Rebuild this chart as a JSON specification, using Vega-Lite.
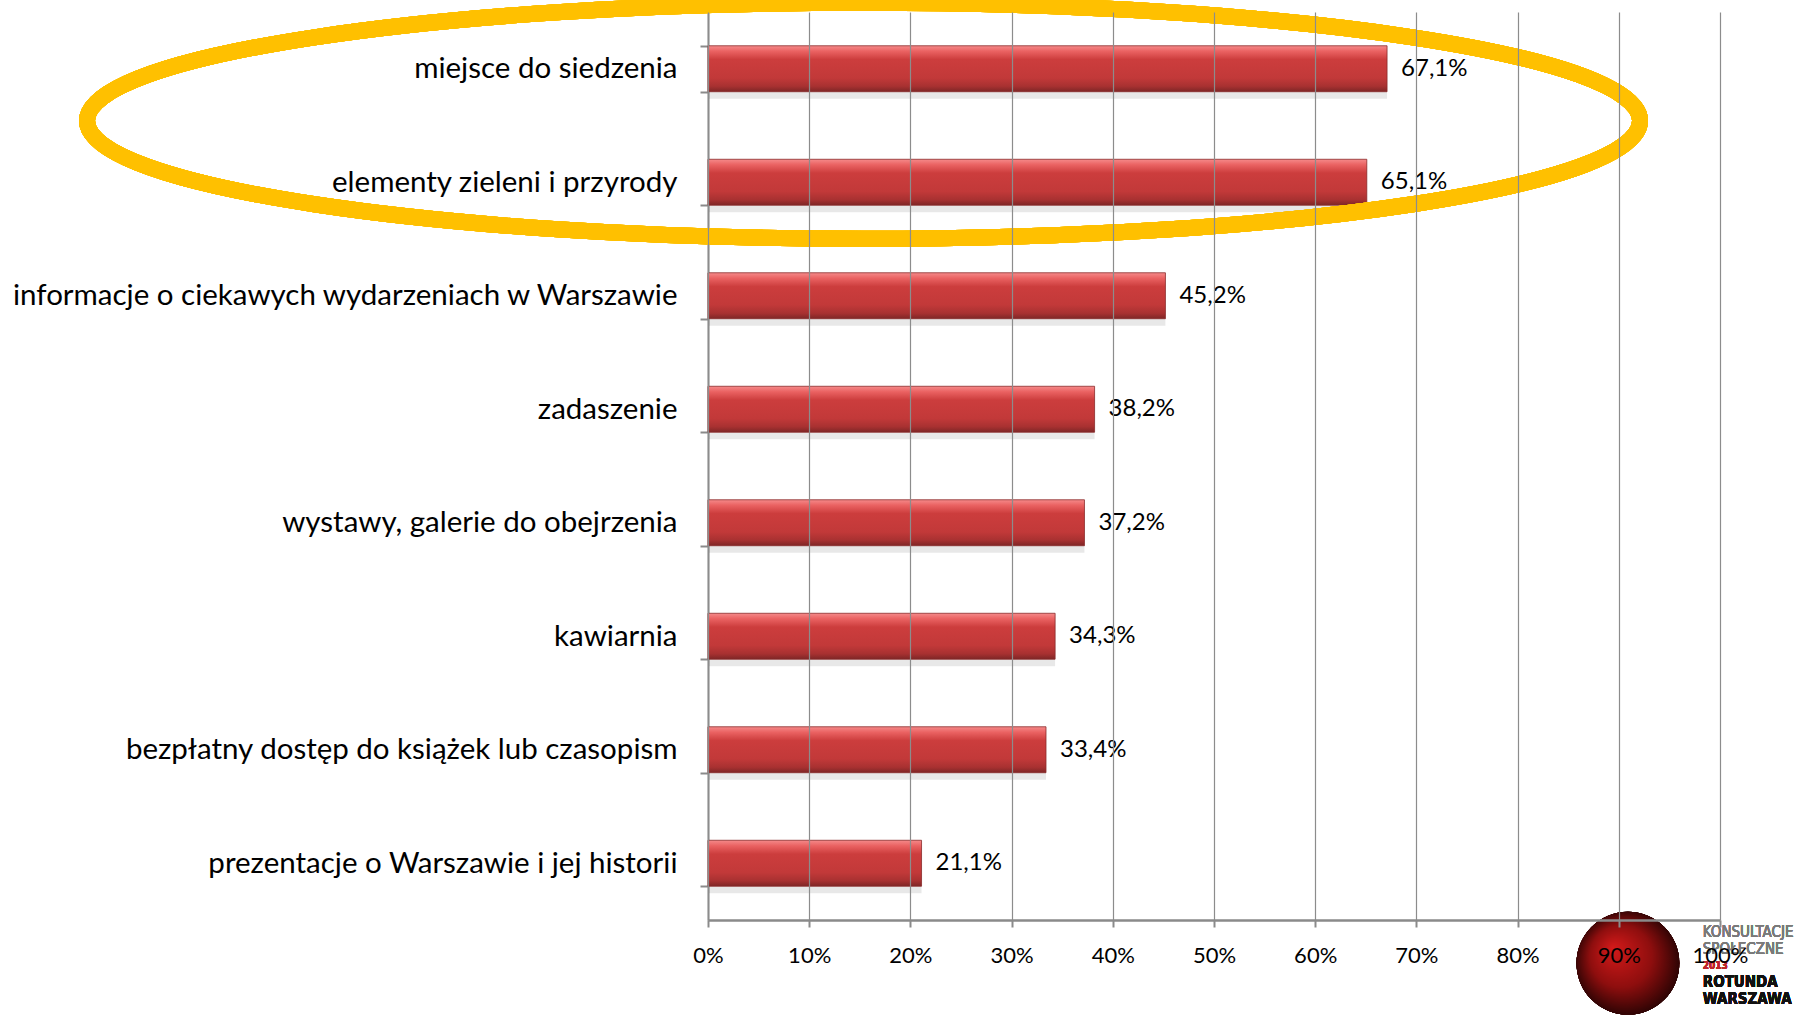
{
  "$schema": "https://vega.github.io/schema/vega-lite/v6.json",
  "autosize": "none",
  "width": 1012,
  "height": 908,
  "padding": {"left": 708, "top": 12, "right": 88, "bottom": 101},
  "background": "white",
  "config": {
    "view": {"stroke": null},
    "locale": {"number": {"decimal": ",", "thousands": " ", "grouping": [3], "currency": ["", " zł"]}},
    "font": "Lato"
  },
  "data": {
    "values": [
      {"kategoria": "miejsce do siedzenia", "udzial": 0.671},
      {"kategoria": "elementy zieleni i przyrody", "udzial": 0.651},
      {"kategoria": "informacje o ciekawych wydarzeniach w Warszawie", "udzial": 0.452},
      {"kategoria": "zadaszenie", "udzial": 0.382},
      {"kategoria": "wystawy, galerie do obejrzenia", "udzial": 0.372},
      {"kategoria": "kawiarnia", "udzial": 0.343},
      {"kategoria": "bezpłatny dostęp do książek lub czasopism", "udzial": 0.334},
      {"kategoria": "prezentacje o Warszawie i jej historii", "udzial": 0.211}
    ]
  },
  "encoding": {
    "y": {
      "field": "kategoria", "type": "nominal", "sort": null,
      "scale": {"paddingInner": 0.595, "paddingOuter": 0.2975},
      "axis": {
        "title": null, "domainColor": "#8a8a8a", "domainWidth": 2,
        "tickColor": "#8a8a8a", "tickWidth": 2, "tickSize": 8, "tickBand": "extent",
        "labelFont": "Lato", "labelFontSize": 29.5, "labelColor": "#000000",
        "labelPadding": 23, "labelLimit": 0, "grid": false
      }
    },
    "x": {
      "field": "udzial", "type": "quantitative",
      "scale": {"domain": [0, 1], "nice": false},
      "axis": {
        "title": null, "format": ".0%", "values": [0, 0.1, 0.2, 0.3, 0.4, 0.5, 0.6, 0.7, 0.8, 0.9, 1],
        "grid": true, "gridColor": "#8c8c8c", "gridWidth": 1.2,
        "domainColor": "#8a8a8a", "domainWidth": 2.5,
        "tickColor": "#8a8a8a", "tickWidth": 2, "tickSize": 7,
        "labelFont": "Lato", "labelFontSize": 22, "labelColor": "#000000",
        "labelPadding": 18, "labelFlush": false, "labelOverlap": false, "zindex": 1
      }
    }
  },
  "layer": [
    {
      "mark": {"type": "bar", "yOffset": 7, "color": "#000000", "opacity": 0.09},
      "encoding": {}
    },
    {
      "mark": {
        "type": "bar",
        "stroke": "#8a2b2b", "strokeWidth": 0.8,
        "color": {
          "gradient": "linear", "x1": 0, "y1": 0, "x2": 0, "y2": 1,
          "stops": [
            {"offset": 0, "color": "#f58a8a"},
            {"offset": 0.12, "color": "#ea6262"},
            {"offset": 0.3, "color": "#cc3d3d"},
            {"offset": 0.7, "color": "#c23939"},
            {"offset": 0.88, "color": "#a83131"},
            {"offset": 1, "color": "#7e2626"}
          ]
        }
      },
      "encoding": {}
    },
    {
      "mark": {"type": "text", "align": "left", "baseline": "middle", "dx": 14, "font": "Lato", "fontSize": 24, "color": "#000000"},
      "encoding": {"text": {"field": "udzial", "type": "quantitative", "format": ".1%"}}
    },
    {
      "mark": {
        "type": "point", "filled": true, "opacity": 1, "shape": "circle", "size": 10568,
        "fill": {"gradient": "radial", "x1": 0.35, "y1": 0.35, "r1": 0, "x2": 0.5, "y2": 0.5, "r2": 0.55,
          "stops": [{"offset": 0, "color": "#d41a1a"}, {"offset": 0.55, "color": "#8e0e0e"}, {"offset": 1, "color": "#1e0202"}]},
        "yOffset": 100
      },
      "encoding": {"x": {"datum": 0.909}, "y": {"datum": "prezentacje o Warszawie i jej historii"}}
    },
    {
      "mark": {"type": "text", "text": "KONSULTACJE", "align": "left", "baseline": "middle", "font": "DejaVu Sans Condensed", "fontSize": 15, "color": "#7a7a7a", "yOffset": 69},
      "encoding": {"x": {"datum": 0.983}, "y": {"datum": "prezentacje o Warszawie i jej historii"}}
    },
    {
      "mark": {"type": "text", "text": "SPOŁECZNE", "align": "left", "baseline": "middle", "font": "DejaVu Sans Condensed", "fontSize": 15, "color": "#7a7a7a", "yOffset": 86},
      "encoding": {"x": {"datum": 0.983}, "y": {"datum": "prezentacje o Warszawie i jej historii"}}
    },
    {
      "mark": {"type": "text", "text": "2013", "align": "left", "baseline": "middle", "font": "DejaVu Sans Condensed", "fontSize": 10, "fontWeight": "bold", "color": "#c0262c", "yOffset": 103},
      "encoding": {"x": {"datum": 0.983}, "y": {"datum": "prezentacje o Warszawie i jej historii"}}
    },
    {
      "mark": {"type": "text", "text": "ROTUNDA", "align": "left", "baseline": "middle", "font": "DejaVu Sans Condensed", "fontSize": 15, "fontWeight": "bold", "color": "#111111", "yOffset": 119},
      "encoding": {"x": {"datum": 0.983}, "y": {"datum": "prezentacje o Warszawie i jej historii"}}
    },
    {
      "mark": {"type": "text", "text": "WARSZAWA", "align": "left", "baseline": "middle", "font": "DejaVu Sans Condensed", "fontSize": 15, "fontWeight": "bold", "color": "#111111", "yOffset": 136},
      "encoding": {"x": {"datum": 0.983}, "y": {"datum": "prezentacje o Warszawie i jej historii"}}
    },
    {
      "mark": {
        "type": "point", "filled": false, "opacity": 1, "stroke": "#FFC000", "strokeWidth": 16,
        "size": 2411809,
        "shape": "M -1 0.067 C -1 -0.017 -0.5523 -0.085 0 -0.085 C 0.5523 -0.085 1 -0.017 1 0.067 C 1 0.151 0.5523 0.219 0 0.219 C -0.5523 0.219 -1 0.151 -1 0.067 Z"
      },
      "encoding": {"x": {"datum": 0.1537}, "y": {"datum": "miejsce do siedzenia"}}
    }
  ]
}
